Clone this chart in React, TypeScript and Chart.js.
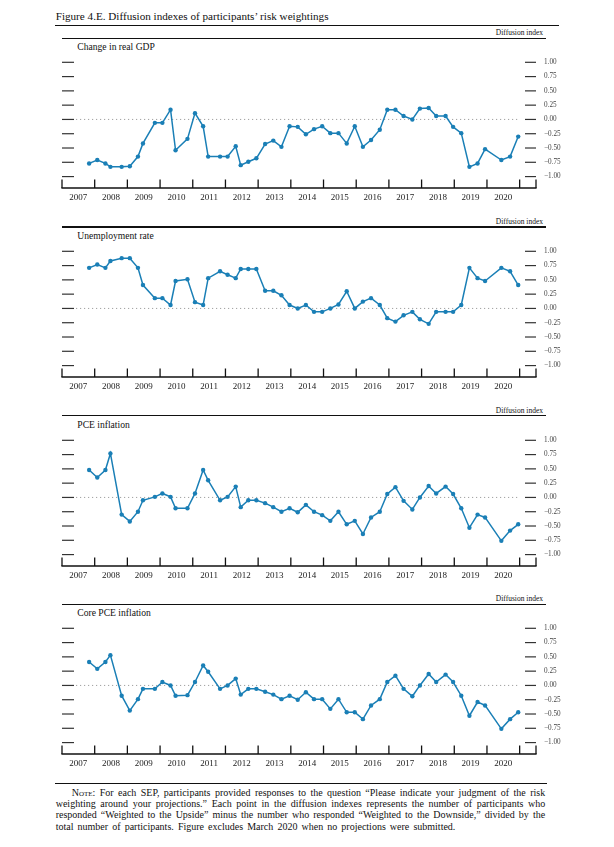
import React, { useEffect, useRef } from "react";
import { Chart, registerables } from "chart.js";

Chart.register(...registerables);

// SEP release dates (March 2020 excluded: no projections were submitted)
const sepDates = [
  "2007-10-31",
  "2008-01-30", "2008-04-30", "2008-06-25", "2008-10-29",
  "2009-01-28", "2009-04-29", "2009-06-24", "2009-11-04",
  "2010-01-27", "2010-04-28", "2010-06-23", "2010-11-03",
  "2011-01-26", "2011-04-27", "2011-06-22", "2011-11-02",
  "2012-01-25", "2012-04-25", "2012-06-20", "2012-09-13", "2012-12-12",
  "2013-03-20", "2013-06-19", "2013-09-18", "2013-12-18",
  "2014-03-19", "2014-06-18", "2014-09-17", "2014-12-17",
  "2015-03-18", "2015-06-17", "2015-09-17", "2015-12-16",
  "2016-03-16", "2016-06-15", "2016-09-21", "2016-12-14",
  "2017-03-15", "2017-06-14", "2017-09-20", "2017-12-13",
  "2018-03-21", "2018-06-13", "2018-09-26", "2018-12-19",
  "2019-03-20", "2019-06-19", "2019-09-18", "2019-12-11",
  "2020-06-10", "2020-09-16", "2020-12-16",
];

const gdpRisk = [
  -0.77,
  -0.71, -0.77, -0.83, -0.83,
  -0.82, -0.65, -0.42, -0.06,
  -0.06, 0.17, -0.54, -0.34,
  0.11, -0.12, -0.65, -0.65,
  -0.65, -0.47, -0.8, -0.74, -0.68,
  -0.43, -0.37, -0.48, -0.12,
  -0.13, -0.26, -0.17, -0.12,
  -0.24, -0.24, -0.42, -0.12,
  -0.48, -0.36, -0.18, 0.17,
  0.17, 0.06, 0.0, 0.19,
  0.2, 0.06, 0.06, -0.13,
  -0.24, -0.83, -0.77, -0.52,
  -0.71, -0.65, -0.3,
];

const unemploymentRisk = [
  0.71,
  0.77, 0.71, 0.83, 0.88,
  0.88, 0.71, 0.41, 0.18,
  0.18, 0.06, 0.48, 0.51,
  0.11, 0.06, 0.53, 0.65,
  0.59, 0.53, 0.69, 0.69, 0.69,
  0.31, 0.31, 0.23, 0.06,
  0.0, 0.06, -0.06, -0.06,
  0.0, 0.07, 0.3, 0.0,
  0.12, 0.18, 0.06, -0.17,
  -0.23, -0.12, -0.06, -0.19,
  -0.27, -0.06, -0.06, -0.06,
  0.06, 0.71, 0.53, 0.48,
  0.71, 0.65, 0.41,
];

const pceRisk = [
  0.48,
  0.35, 0.48, 0.77, -0.3,
  -0.42, -0.25, -0.05, 0.01,
  0.07, 0.01, -0.19, -0.19,
  0.07, 0.48, 0.3, -0.05,
  0.01, 0.19, -0.17, -0.05, -0.05,
  -0.1, -0.17, -0.25, -0.19,
  -0.26, -0.13, -0.25, -0.31,
  -0.41, -0.25, -0.47, -0.41,
  -0.64, -0.35, -0.25, 0.06,
  0.18, -0.06, -0.21, 0.0,
  0.2, 0.07, 0.19, 0.06,
  -0.19, -0.53, -0.3, -0.35,
  -0.76, -0.58, -0.47,
];

const corePceRisk = [
  0.41,
  0.29, 0.41, 0.53, -0.18,
  -0.44, -0.24, -0.06, -0.06,
  0.06, 0.0, -0.18, -0.17,
  0.06, 0.35, 0.24, -0.06,
  0.0, 0.12, -0.16, -0.06, -0.06,
  -0.11, -0.16, -0.24, -0.18,
  -0.25, -0.12, -0.24, -0.24,
  -0.41, -0.24, -0.47, -0.47,
  -0.59, -0.35, -0.24, 0.06,
  0.17, -0.06, -0.19, 0.0,
  0.2, 0.06, 0.19, 0.06,
  -0.18, -0.53, -0.29, -0.35,
  -0.76, -0.59, -0.47,
];

const panelTitles = ["Change in real GDP", "Unemployment rate", "PCE inflation", "Core PCE inflation"];
const panelSeries = [gdpRisk, unemploymentRisk, pceRisk, corePceRisk];
const yearLabels = [2007, 2008, 2009, 2010, 2011, 2012, 2013, 2014, 2015, 2016, 2017, 2018, 2019, 2020];
const yearTicks = [2007, 2008, 2009, 2010, 2011, 2012, 2013, 2014, 2015, 2016, 2017, 2018, 2019, 2020, 2021];
const yTickValues = [-1, -0.75, -0.5, -0.25, 0, 0.25, 0.5, 0.75, 1];

const figureTitle = "Figure 4.E. Diffusion indexes of participants\u2019 risk weightings";
const axisUnit = "Diffusion index";
const noteLines = [
  "For each SEP, participants provided responses to the question \u201cPlease indicate your judgment of the risk",
  "weighting around your projections.\u201d Each point in the diffusion indexes represents the number of participants who",
  "responded \u201cWeighted to the Upside\u201d minus the number who responded \u201cWeighted to the Downside,\u201d divided by the",
  "total number of participants. Figure excludes March 2020 when no projections were submitted.",
];

const BLUE = "#1a7fb6";
const SERIF = "'Liberation Serif', 'DejaVu Serif', serif";
const PANEL_TOPS = [38.3, 227.0, 415.7, 604.4];
const CANVAS_H = 170;

function toYear(d: string): number {
  const [y, m, day] = d.split("-").map(Number);
  const start = Date.UTC(y, 0, 1);
  const end = Date.UTC(y + 1, 0, 1);
  return y + (Date.UTC(y, m - 1, day) - start) / (end - start);
}

function fmtTick(v: number): string {
  const s = Math.abs(v).toFixed(2);
  return v < 0 ? "\u2212" + s : s;
}

const framePlugin = {
  id: "frame",
  beforeDatasetsDraw(chart: any) {
    const { ctx, chartArea: a, scales } = chart;
    const x = scales.x;
    const y = scales.y;
    const line = (x1: number, y1: number, x2: number, y2: number) => {
      ctx.beginPath();
      ctx.moveTo(x1, y1);
      ctx.lineTo(x2, y2);
      ctx.stroke();
    };
    ctx.save();
    // dotted zero line
    const y0 = y.getPixelForValue(0);
    ctx.strokeStyle = "#a0a0a0";
    ctx.lineWidth = 1;
    ctx.setLineDash([1.2, 2.8]);
    line(a.left + 14, y0, a.right - 16, y0);
    ctx.setLineDash([]);
    // side tick marks
    ctx.strokeStyle = "#333";
    ctx.lineWidth = 1.2;
    yTickValues.forEach((v) => {
      const py = y.getPixelForValue(v);
      line(a.left, py, a.left + 12, py);
      line(a.right - 11, py, a.right, py);
    });
    // bottom axis
    ctx.strokeStyle = "#111";
    ctx.lineWidth = 1.3;
    line(a.left - 0.6, a.bottom, a.right + 0.6, a.bottom);
    yearTicks.forEach((yr) => {
      const px = x.getPixelForValue(yr);
      line(px, a.bottom, px, a.bottom - 8.5);
    });
    line(a.right, a.bottom, a.right, a.bottom - 8.5);
    ctx.restore();
  },
};

function Panel({ index }: { index: number }) {
  const ref = useRef<HTMLCanvasElement>(null);
  useEffect(() => {
    const values = panelSeries[index];
    const chart = new Chart(ref.current as HTMLCanvasElement, {
      type: "line",
      data: {
        datasets: [
          {
            data: sepDates.map((d, i) => ({ x: toYear(d), y: values[i] })),
            borderColor: BLUE,
            backgroundColor: BLUE,
            borderWidth: 1.5,
            pointRadius: 2.2,
            pointHoverRadius: 2.2,
            pointBorderWidth: 0,
            pointBackgroundColor: BLUE,
            tension: 0,
          },
        ],
      },
      options: {
        responsive: false,
        animation: false,
        events: [],
        layout: { padding: { top: 24.3, left: 62, right: 0, bottom: 0 } },
        plugins: { legend: { display: false }, tooltip: { enabled: false }, title: { display: false } },
        scales: {
          x: {
            type: "linear",
            min: 2007,
            max: 2021.5,
            grid: { display: false, drawTicks: false },
            border: { display: false },
            afterBuildTicks: (s: any) => {
              s.ticks = yearLabels.map((yr) => ({ value: yr + 0.5 }));
            },
            afterFit: (s: any) => {
              s.height = 20;
            },
            ticks: {
              autoSkip: false,
              maxRotation: 0,
              padding: 4,
              color: "#222",
              font: { family: SERIF, size: 9 },
              callback: (v: any) => String(Math.floor(Number(v))),
            },
          },
          y: {
            position: "right",
            min: -1.2,
            max: 1,
            grid: { display: false, drawTicks: false },
            border: { display: false },
            afterBuildTicks: (s: any) => {
              s.ticks = yTickValues.map((v) => ({ value: v }));
            },
            afterFit: (s: any) => {
              s.width = 78;
            },
            ticks: {
              padding: 8,
              color: "#444",
              font: { family: SERIF, size: 7.2 },
              callback: (v: any) => fmtTick(Number(v)),
            },
          },
        },
      },
      plugins: [framePlugin],
    } as any);
    return () => chart.destroy();
  }, [index]);

  const T = PANEL_TOPS[index];
  return (
    <>
      <div style={{ position: "absolute", left: 62, top: T - 0.6, width: 484, height: 1.2, background: "#111" }} />
      <div
        style={{
          position: "absolute",
          right: 614 - 543,
          top: T - 10,
          fontFamily: SERIF,
          fontSize: 7.5,
          lineHeight: "10px",
          color: "#111",
          whiteSpace: "nowrap",
        }}
      >
        {axisUnit}
      </div>
      <div
        style={{
          position: "absolute",
          left: 77.3,
          top: T + 2.8,
          fontFamily: SERIF,
          fontSize: 9.6,
          lineHeight: "12px",
          color: "#111",
          whiteSpace: "nowrap",
        }}
      >
        {panelTitles[index]}
      </div>
      <canvas
        ref={ref}
        width={614}
        height={CANVAS_H}
        style={{ position: "absolute", left: 0, top: T, width: 614, height: CANVAS_H }}
      />
    </>
  );
}

export default function App() {
  return (
    <div style={{ position: "absolute", left: 0, top: 0, width: 614, height: 847, background: "#fff", overflow: "hidden" }}>
      <div
        style={{
          position: "absolute",
          left: 55.7,
          top: 9.5,
          fontFamily: SERIF,
          fontSize: 11.15,
          lineHeight: "12px",
          color: "#111",
          whiteSpace: "nowrap",
        }}
      >
        {figureTitle}
      </div>
      <div style={{ position: "absolute", left: 55, top: 24.5, width: 504, height: 1.2, background: "#111" }} />
      {[0, 1, 2, 3].map((i) => (
        <Panel key={i} index={i} />
      ))}
      <div style={{ position: "absolute", left: 55, top: 782.8, width: 492, height: 1.2, background: "#111" }} />
      <div
        style={{
          position: "absolute",
          left: 55.7,
          top: 786.6,
          width: 489.5,
          fontFamily: SERIF,
          fontSize: 10,
          lineHeight: "11.33px",
          color: "#111",
        }}
      >
        {noteLines.map((ln, i) => (
          <div
            key={i}
            style={{
              whiteSpace: "nowrap",
              textAlign: i < noteLines.length - 1 ? "justify" : "left",
              textAlignLast: i < noteLines.length - 1 ? "justify" : "left",
              paddingLeft: i === 0 ? 16 : 0,
              wordSpacing: i === noteLines.length - 1 ? 1.6 : 0,
            }}
          >
            {i === 0 ? <span style={{ fontVariant: "small-caps" }}>Note: </span> : null}
            {ln}
          </div>
        ))}
      </div>
    </div>
  );
}
